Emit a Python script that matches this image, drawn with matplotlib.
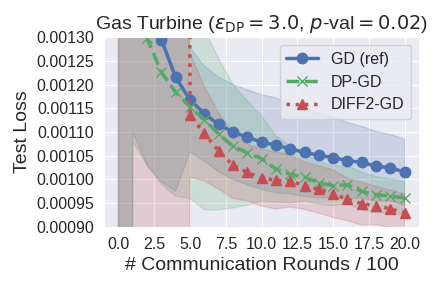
import numpy as np
import matplotlib
matplotlib.use("Agg")
import matplotlib.pyplot as plt
import seaborn as sns

sns.set_style("darkgrid")
plt.rcParams['font.family'] = ['Liberation Sans', 'DejaVu Sans']

# --- data ---
rounds = np.arange(0, 21)  # communication rounds / 100

gd_mean = [0.1, 0.0025, 0.00145, 0.001295, 0.001215, 0.001168, 0.001139, 0.001116,
           0.001100, 0.001089, 0.001079, 0.001072, 0.001065, 0.001057, 0.001051,
           0.001046, 0.001040, 0.001036, 0.001028, 0.001025, 0.001015]
gd_std = [0.2, 0.0014, 0.00042, 0.00030, 0.00024, 0.00011, 0.00010, 0.00010,
          0.00010, 0.00010, 0.00010, 0.00010, 0.000095, 0.000093, 0.00009,
          0.000085, 0.00008, 0.000076, 0.000073, 0.00007, 0.00007]

dp_mean = [0.1, 0.0025, 0.001298, 0.001226, 0.001184, 0.001153, 0.001126, 0.001096,
           0.001070, 0.001056, 0.001044, 0.001022, 0.001011, 0.001005, 0.000993,
           0.000987, 0.000989, 0.000975, 0.000968, 0.000965, 0.000961]
dp_std = [0.2, 0.00142, 0.000268, 0.000236, 0.000219, 0.000193, 0.00019, 0.00016,
          0.00013, 0.00011, 0.00009, 0.00007, 0.00006, 0.00005, 0.000045,
          0.000042, 0.00004, 0.00004, 0.000038, 0.000036, 0.000035]

diff2_mean = [0.05, 0.04, 0.03, 0.025, 0.02, 0.001135, 0.001097, 0.001060, 0.001030,
              0.001015, 0.001004, 0.000998, 0.000997, 0.000987, 0.000979, 0.000970,
              0.000958, 0.000949, 0.000945, 0.000938, 0.000930]
diff2_std = [0.1, 0.1, 0.1, 0.1, 0.1, 0.00013, 0.00010, 0.00008, 0.00007,
             0.00006, 0.00006, 0.00006, 0.000055, 0.00005, 0.00005, 0.00005,
             0.000045, 0.000045, 0.00004, 0.00004, 0.00004]

series = [
    ("GD (ref)", gd_mean, gd_std, "-", "o", "#4C72B0"),
    ("DP-GD", dp_mean, dp_std, "--", "x", "#55A868"),
    ("DIFF2-GD", diff2_mean, diff2_std, ":", "^", "#C44E52"),
]

fig, ax = plt.subplots(figsize=(4.32, 2.88), dpi=100)
fig.subplots_adjust(left=0.241, right=0.970, bottom=0.212, top=0.871)

for label, mean, std, ls, mk, col in series:
    m = np.array(mean)
    s = np.array(std)
    ax.plot(rounds, m, linestyle=ls, marker=mk, color=col, label=label,
            linewidth=2.5, markersize=7.5)
    ax.fill_between(rounds, m - s, m + s, color=col, alpha=0.2)

ax.set_xlim(-1, 21)
ax.set_ylim(0.0009, 0.0013)
yt = np.arange(0.0009, 0.00131, 0.00005)
ax.set_yticks(yt)
ax.set_yticklabels([f"{v:.5f}" for v in yt])
ax.set_xticks(np.arange(0, 20.1, 2.5))
ax.tick_params(labelsize=11.5)

ax.set_title(r"Gas Turbine ($\varepsilon_{\rm DP}=3.0$, $p$-val$=0.02$)", fontsize=14)
ax.set_xlabel("# Communication Rounds / 100", fontsize=14)
ax.set_ylabel("Test Loss", fontsize=14)
ax.legend(loc="upper right", fontsize=11.5)

plt.savefig("out.png", dpi=100)
